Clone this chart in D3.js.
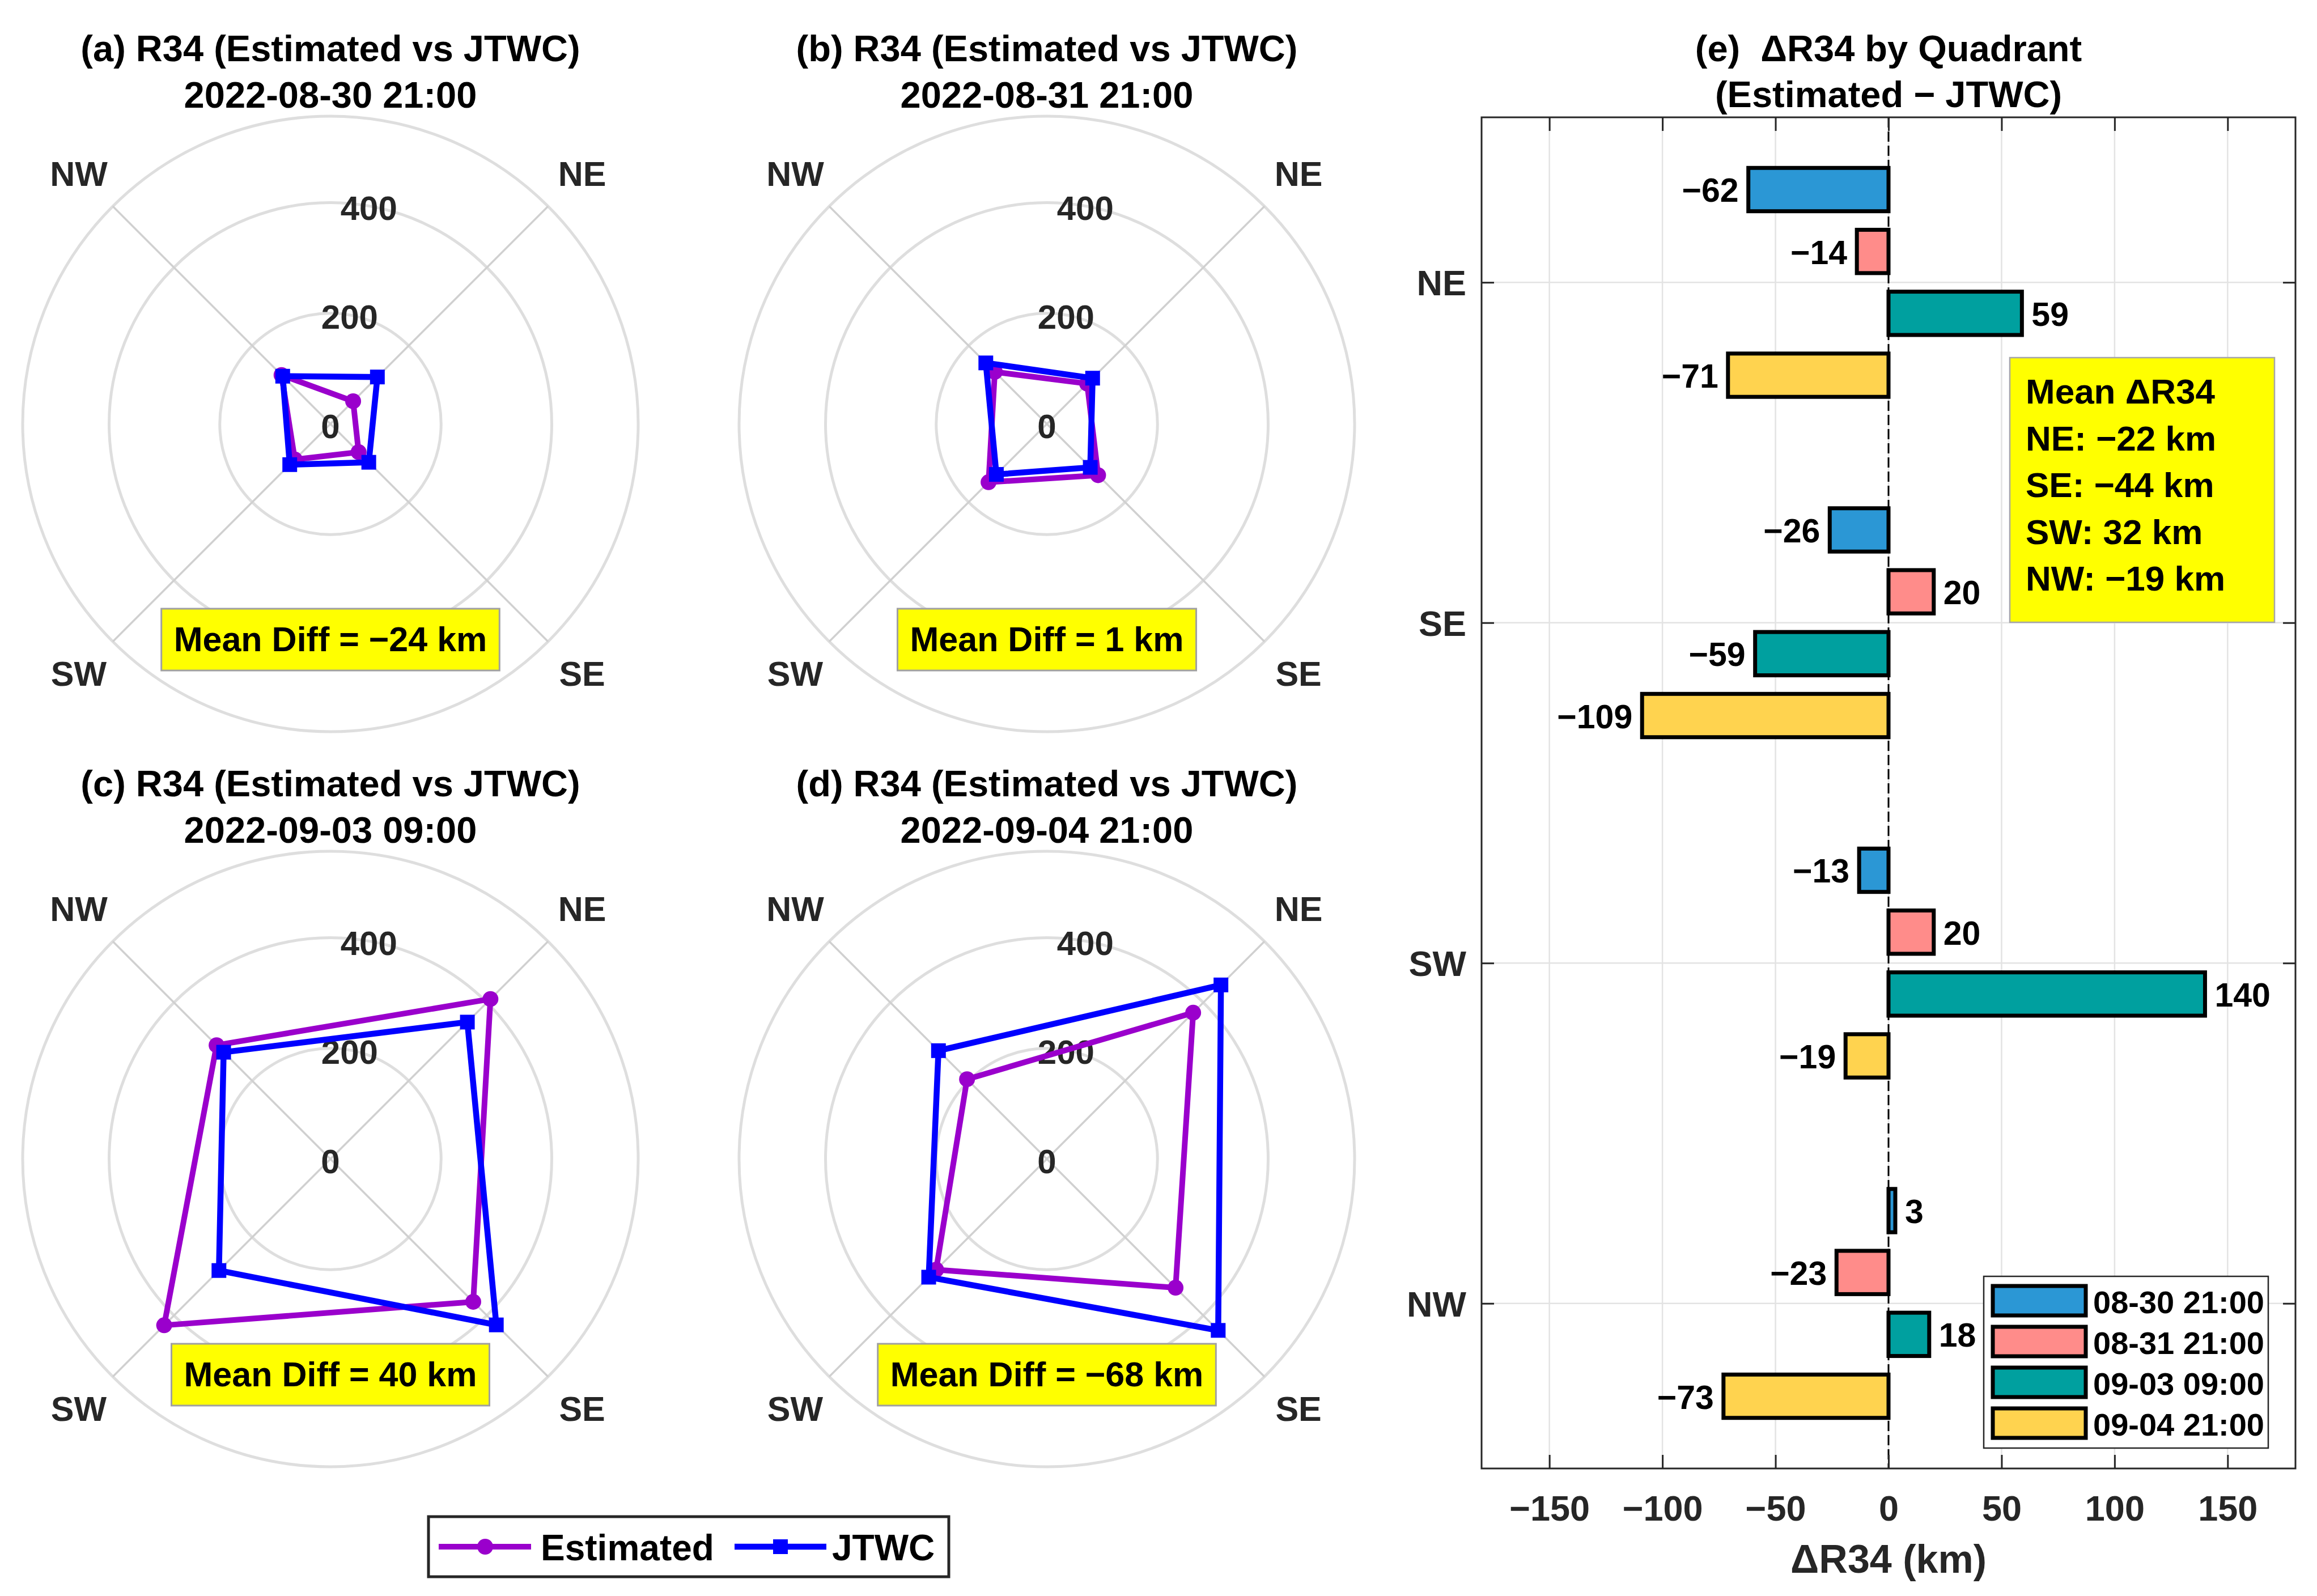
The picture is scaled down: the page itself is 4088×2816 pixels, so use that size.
<!DOCTYPE html>
<html>
<head>
<meta charset="utf-8">
<script src="https://cdn.jsdelivr.net/npm/d3@7"></script>
<style>
  body { margin: 0; background: #fff; }
  text { font-family: "Liberation Sans", Arial, Helvetica, sans-serif; font-weight: bold; }
</style>
</head>
<body>
<div id="chart"></div>
<script>
// quadrant order used everywhere
const quadrants = ["NE", "SE", "SW", "NW"];
const panelLetters = ["(a)", "(b)", "(c)", "(d)"];
const times = ["2022-08-30 21:00", "2022-08-31 21:00", "2022-09-03 09:00", "2022-09-04 21:00"];
const timesShort = ["08-30 21:00", "08-31 21:00", "09-03 09:00", "09-04 21:00"];

// R34 radii (km) per time, order NE, SE, SW, NW
const r34Est = [
    [58, 72, 91, 125],
    [103, 131, 149, 133],
    [409, 365, 425, 291],
    [374, 329, 283, 204]
];
const r34Jtwc = [
    [120, 98, 104, 122],
    [117, 111, 129, 156],
    [350, 424, 285, 273],
    [445, 438, 302, 277]
];
// bar labels, Estimated - JTWC
const deltaR34 = [
    [-62, -26, -13, 3],
    [-14, 20, 20, -23],
    [59, -59, 140, 18],
    [-71, -109, -19, -73]
];
const meanDiff = [-24, 1, 40, -68];
const quadMean = [-22, -44, 32, -19];

const rTicks = [0, 200, 400];
const xTicks = [-150, -100, -50, 0, 50, 100, 150];
const barColors = ["#2B97D5", "#FF8C8A", "#00A09F", "#FFD34F"];
const estColor = "#9A00CC";
const jtwcColor = "#0000FF";

const W = 4088, H = 2816;
const fmt = d3.format("d");

var svg = d3.select("#chart").append("svg")
    .attr("width", W)
    .attr("height", H);
svg.append("rect").attr("width", W).attr("height", H).attr("fill", "#fff");

// ---------- polar panels ----------
var rMax = 1.25 * d3.max(r34Jtwc.concat(r34Est).flat());
var R = 543;
var rScale = d3.scaleLinear().domain([0, rMax]).range([0, R]);
// lineRadial angles: clockwise from north
var qAngle = d3.scaleOrdinal().domain(quadrants).range([Math.PI / 4, 3 * Math.PI / 4, 5 * Math.PI / 4, 7 * Math.PI / 4]);
var centers = [[583, 748], [1847, 748], [583, 2045], [1847, 2045]];

function drawPolar(i) {
    var cx = centers[i][0], cy = centers[i][1];
    var g = svg.append("g").attr("transform", "translate(" + cx + "," + cy + ")");

    // titles
    g.append("text").attr("x", 0).attr("y", -640).attr("text-anchor", "middle")
        .attr("font-size", 65).attr("fill", "#000")
        .text(panelLetters[i] + " R34 (Estimated vs JTWC)");
    g.append("text").attr("x", 0).attr("y", -558).attr("text-anchor", "middle")
        .attr("font-size", 65).attr("fill", "#000")
        .text(times[i]);

    // rings
    g.selectAll(".ring")
        .data(rTicks.filter(d => d > 0).concat([rMax]))
        .join("circle")
        .attr("r", d => rScale(d))
        .attr("fill", "none")
        .attr("stroke", "#DEDEDE")
        .attr("stroke-width", 5);

    // diagonal spokes
    g.selectAll(".spoke")
        .data(quadrants)
        .join("line")
        .attr("x1", 0).attr("y1", 0)
        .attr("x2", d => R * Math.sin(qAngle(d)))
        .attr("y2", d => -R * Math.cos(qAngle(d)))
        .attr("stroke", "#D0D0D0")
        .attr("stroke-width", 3.5);

    // radial labels at 80 deg
    var a80 = 80 * Math.PI / 180;
    g.selectAll(".rlab")
        .data(rTicks)
        .join("text")
        .attr("x", d => rScale(d) * Math.cos(a80))
        .attr("y", d => -rScale(d) * Math.sin(a80) + 4)
        .attr("text-anchor", "middle")
        .attr("dominant-baseline", "central")
        .attr("font-size", 60)
        .attr("fill", "#262626")
        .text(d => d);

    // theta labels
    g.selectAll(".tlab")
        .data(quadrants)
        .join("text")
        .attr("x", d => 628 * Math.sin(qAngle(d)))
        .attr("y", d => -624 * Math.cos(qAngle(d)))
        .attr("text-anchor", "middle")
        .attr("dominant-baseline", "central")
        .attr("font-size", 61)
        .attr("fill", "#262626")
        .text(d => d);

    var radial = d3.lineRadial()
        .angle((d, k) => qAngle(quadrants[k]))
        .radius(d => rScale(d))
        .curve(d3.curveLinearClosed);

    // estimated
    g.append("path").datum(r34Est[i])
        .attr("d", radial)
        .attr("fill", "none")
        .attr("stroke", estColor)
        .attr("stroke-width", 10)
        .attr("stroke-linejoin", "round");
    g.selectAll(".estpt")
        .data(r34Est[i])
        .join("circle")
        .attr("cx", (d, k) => rScale(d) * Math.sin(qAngle(quadrants[k])))
        .attr("cy", (d, k) => -rScale(d) * Math.cos(qAngle(quadrants[k])))
        .attr("r", 14)
        .attr("fill", estColor);

    // JTWC
    g.append("path").datum(r34Jtwc[i])
        .attr("d", radial)
        .attr("fill", "none")
        .attr("stroke", jtwcColor)
        .attr("stroke-width", 10.5)
        .attr("stroke-linejoin", "miter");
    g.selectAll(".jtpt")
        .data(r34Jtwc[i])
        .join("path")
        .attr("transform", (d, k) => "translate(" + (rScale(d) * Math.sin(qAngle(quadrants[k]))) + "," + (-rScale(d) * Math.cos(qAngle(quadrants[k]))) + ")")
        .attr("d", d3.symbol(d3.symbolSquare, 26 * 26))
        .attr("fill", jtwcColor);

    // mean diff box
    var bg = g.append("g").attr("transform", "translate(0,380)");
    var rect = bg.append("rect");
    var t = bg.append("text")
        .attr("x", 0).attr("y", 0)
        .attr("text-anchor", "middle")
        .attr("dominant-baseline", "central")
        .attr("font-size", 61)
        .attr("fill", "#000")
        .text("Mean Diff = " + fmt(meanDiff[i]) + " km");
    var tw = t.node().getComputedTextLength();
    rect.attr("x", -tw / 2 - 22).attr("y", -54)
        .attr("width", tw + 44).attr("height", 109)
        .attr("fill", "#FFFF00")
        .attr("stroke", "#A0A0A0")
        .attr("stroke-width", 3);
}
[0, 1, 2, 3].forEach(drawPolar);

// polar legend
var leg = svg.append("g");
leg.append("rect").attr("x", 756).attr("y", 2676).attr("width", 918).attr("height", 106)
    .attr("fill", "#fff").attr("stroke", "#262626").attr("stroke-width", 5);
leg.append("line").attr("x1", 774).attr("x2", 937).attr("y1", 2729).attr("y2", 2729)
    .attr("stroke", estColor).attr("stroke-width", 10);
leg.append("circle").attr("cx", 856).attr("cy", 2729).attr("r", 14).attr("fill", estColor);
leg.append("text").attr("x", 954).attr("y", 2731).attr("dominant-baseline", "central")
    .attr("font-size", 64).attr("fill", "#000").text("Estimated");
leg.append("line").attr("x1", 1296).attr("x2", 1458).attr("y1", 2729).attr("y2", 2729)
    .attr("stroke", jtwcColor).attr("stroke-width", 10.5);
leg.append("path").attr("transform", "translate(1377,2729)")
    .attr("d", d3.symbol(d3.symbolSquare, 26 * 26)).attr("fill", jtwcColor);
leg.append("text").attr("x", 1468).attr("y", 2731).attr("dominant-baseline", "central")
    .attr("font-size", 64).attr("fill", "#000").text("JTWC");

// ---------- (e) bar chart ----------
var bx0 = 2614, bx1 = 4050, by0 = 207, by1 = 2591;
var x = d3.scaleLinear().domain([-180, 180]).range([bx0, bx1]);
var y = d3.scaleLinear().domain([0.515, 4.485]).range([by0, by1]);
var inner = d3.scaleBand().domain(d3.range(times.length))
    .range([-0.3636, 0.3636]).paddingInner(0.3).paddingOuter(0.15);
var barH = y(inner.bandwidth()) - y(0);

var bar = svg.append("g");

// title
bar.append("text").attr("x", (bx0 + bx1) / 2).attr("y", 108).attr("text-anchor", "middle")
    .attr("font-size", 65).attr("fill", "#000").attr("xml:space", "preserve")
    .text("(e)  \u0394R34 by Quadrant");
bar.append("text").attr("x", (bx0 + bx1) / 2).attr("y", 189).attr("text-anchor", "middle")
    .attr("font-size", 65).attr("fill", "#000")
    .text("(Estimated \u2212 JTWC)");

// grid
bar.selectAll(".vgrid").data(xTicks).join("line")
    .attr("x1", d => x(d)).attr("x2", d => x(d))
    .attr("y1", by0).attr("y2", by1)
    .attr("stroke", "#E3E3E3").attr("stroke-width", 2.5);
bar.selectAll(".hgrid").data(quadrants).join("line")
    .attr("x1", bx0).attr("x2", bx1)
    .attr("y1", (d, k) => y(k + 1)).attr("y2", (d, k) => y(k + 1))
    .attr("stroke", "#E3E3E3").attr("stroke-width", 2.5);

// bars
var barData = [];
quadrants.forEach(function(q, qi) {
    times.forEach(function(t, ti) {
        barData.push({q: qi, t: ti, v: deltaR34[ti][qi]});
    });
});
bar.selectAll(".bar").data(barData).join("rect")
    .attr("x", d => x(Math.min(0, d.v)))
    .attr("width", d => Math.abs(x(d.v) - x(0)))
    .attr("y", d => y(d.q + 1 + inner(d.t)))
    .attr("height", barH)
    .attr("fill", d => barColors[d.t])
    .attr("stroke", "#000")
    .attr("stroke-width", 7);

// zero line
bar.append("line").attr("x1", x(0)).attr("x2", x(0)).attr("y1", by0).attr("y2", by1)
    .attr("stroke", "#000").attr("stroke-width", 3).attr("stroke-dasharray", "18,7");

// value labels
bar.selectAll(".vlab").data(barData).join("text")
    .attr("x", d => d.v < 0 ? x(d.v) - 17 : x(d.v) + 17)
    .attr("y", d => y(d.q + 1 + inner(d.t)) + barH / 2 + 2)
    .attr("text-anchor", d => d.v < 0 ? "end" : "start")
    .attr("dominant-baseline", "central")
    .attr("font-size", 59)
    .attr("fill", "#000")
    .text(d => fmt(d.v));

// axes
var axB = bar.append("g").attr("transform", "translate(0," + by1 + ")")
    .call(d3.axisBottom(x).tickValues(xTicks).tickSize(-24).tickSizeOuter(0).tickPadding(47).tickFormat(fmt));
var axT = bar.append("g").attr("transform", "translate(0," + by0 + ")")
    .call(d3.axisTop(x).tickValues(xTicks).tickSize(-24).tickSizeOuter(0).tickFormat(""));
var axL = bar.append("g").attr("transform", "translate(" + bx0 + ",0)")
    .call(d3.axisLeft(y).tickValues([1, 2, 3, 4]).tickSize(-22).tickSizeOuter(0).tickPadding(27)
        .tickFormat(d => quadrants[d - 1]));
var axR = bar.append("g").attr("transform", "translate(" + bx1 + ",0)")
    .call(d3.axisRight(y).tickValues([1, 2, 3, 4]).tickSize(-22).tickSizeOuter(0).tickFormat(""));
[axB, axT, axL, axR].forEach(function(a) {
    a.select(".domain").remove();
    a.selectAll(".tick line").attr("stroke", "#262626").attr("stroke-width", 3);
    a.selectAll(".tick text").attr("font-size", 63).attr("fill", "#262626")
        .attr("font-family", "Liberation Sans, Arial, sans-serif").attr("font-weight", "bold");
});
axL.selectAll(".tick text").attr("dy", "0.36em");
bar.append("rect").attr("x", bx0).attr("y", by0).attr("width", bx1 - bx0).attr("height", by1 - by0)
    .attr("fill", "none").attr("stroke", "#262626").attr("stroke-width", 3);

// x label
bar.append("text").attr("x", (bx0 + bx1) / 2).attr("y", 2775).attr("text-anchor", "middle")
    .attr("font-size", 70).attr("fill", "#262626").text("\u0394R34 (km)");

// mean box
var mb = bar.append("g");
mb.append("rect").attr("x", 3546).attr("y", 631).attr("width", 467).attr("height", 467)
    .attr("fill", "#FFFF00").attr("stroke", "#A6A6A6").attr("stroke-width", 2.5);
var mLines = ["Mean \u0394R34"].concat(quadrants.map((q, k) => q + ": " + fmt(quadMean[k]) + " km"));
mb.selectAll(".mline").data(mLines).join("text")
    .attr("x", 3574)
    .attr("y", (d, k) => 712 + k * 82.5)
    .attr("font-size", 62)
    .attr("fill", "#000")
    .text(d => d);

// legend
var bl = bar.append("g");
bl.append("rect").attr("x", 3500).attr("y", 2252).attr("width", 502).attr("height", 303)
    .attr("fill", "#fff").attr("stroke", "#262626").attr("stroke-width", 2.5);
var rows = bl.selectAll(".lrow").data(timesShort).join("g")
    .attr("transform", (d, k) => "translate(0," + (2295 + k * 72) + ")");
rows.append("rect").attr("x", 3516).attr("y", -26).attr("width", 164).attr("height", 52)
    .attr("fill", (d, k) => barColors[k]).attr("stroke", "#000").attr("stroke-width", 7);
rows.append("text").attr("x", 3693).attr("y", 2).attr("dominant-baseline", "central")
    .attr("font-size", 56).attr("fill", "#000").text(d => d);
</script>
</body>
</html>
